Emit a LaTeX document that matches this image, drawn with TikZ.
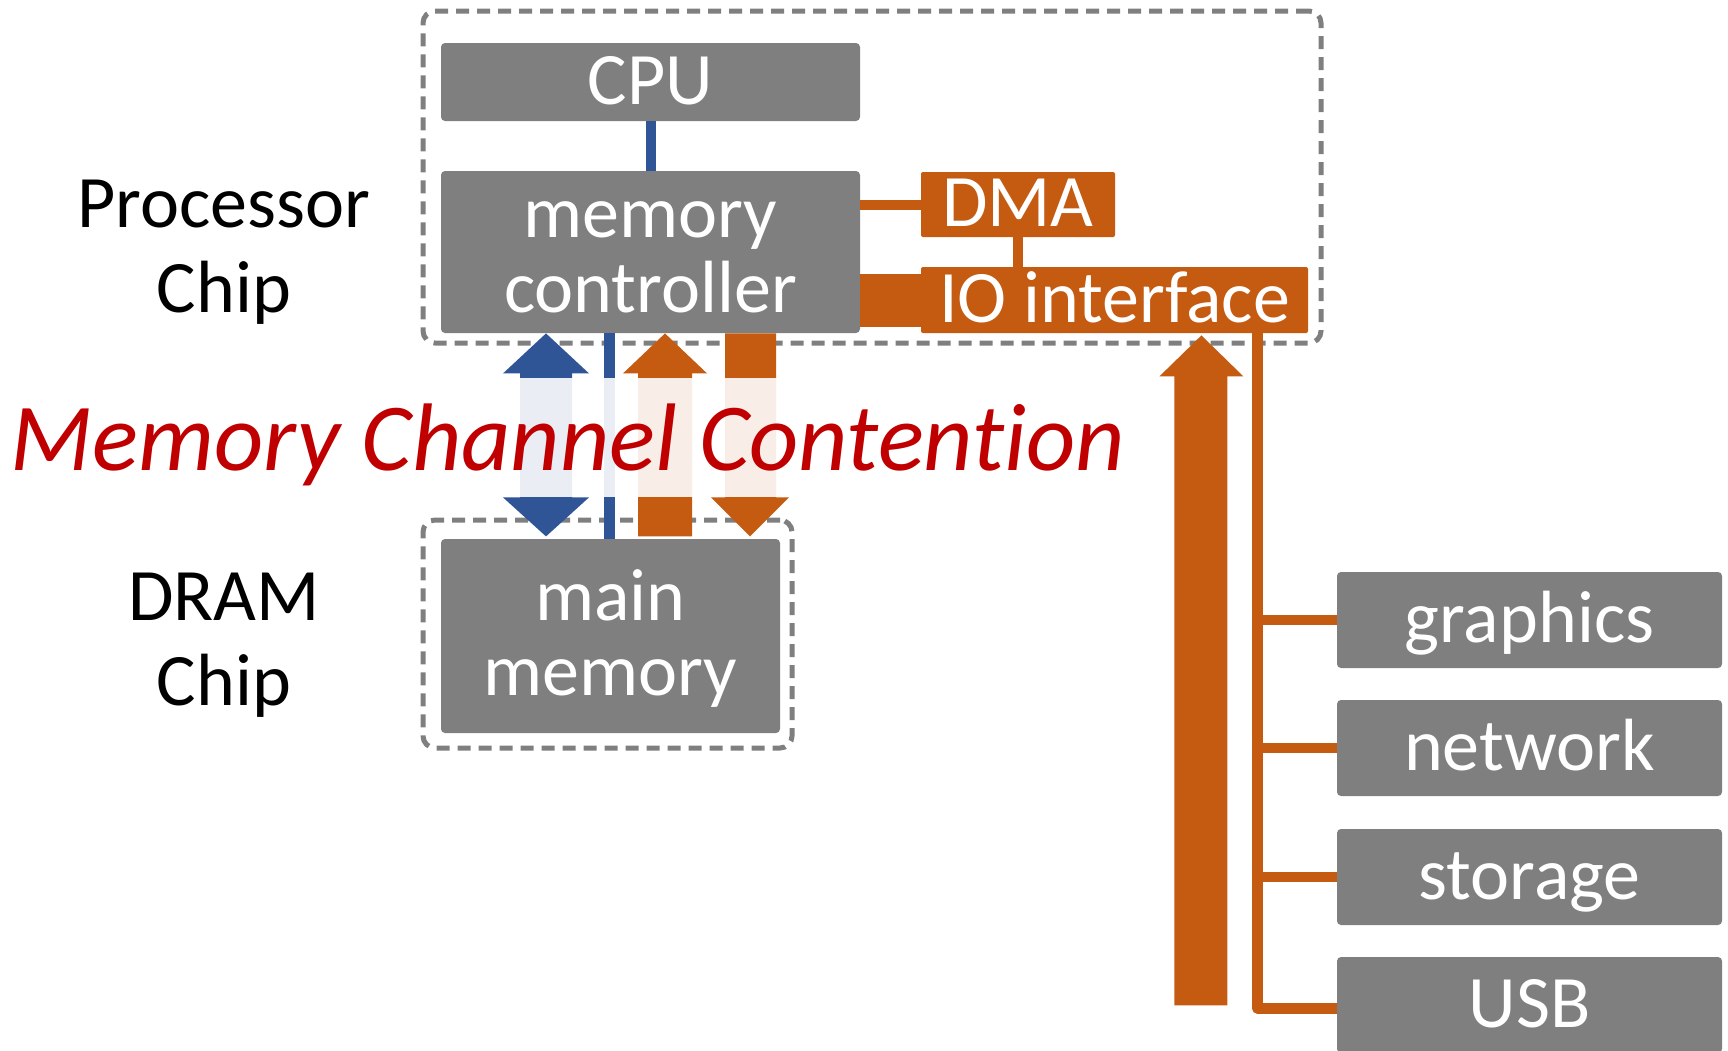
\documentclass[tikz,border=0pt]{standalone}
\usepackage{fontspec}
\setmainfont{Carlito}[RawFeature={-liga}]
\definecolor{boxgray}{HTML}{7F7F7F}
\definecolor{ora}{HTML}{C55A11}
\definecolor{blu}{HTML}{2F5597}
\definecolor{dred}{HTML}{C00000}
\begin{document}
\begin{tikzpicture}[x=0.5pt,y=-0.5pt,
  gbox/.style={fill=boxgray, rounded corners=2pt, text=white, inner sep=0pt,
    font=\fontsize{37}{37.5}\selectfont, align=center},
  obox/.style={fill=ora, rounded corners=1pt, text=white, inner sep=0pt,
    font=\fontsize{37}{37.5}\selectfont, text height=22pt, text depth=0pt},
  oneline/.style={text height=22pt, text depth=0pt},
  chipbox/.style={draw=boxgray, line width=2.5pt, dash pattern=on 6.5pt off 4pt,
    rounded corners=6pt, inner sep=0pt},
  chiplabel/.style={font=\fontsize{37}{42.5}\selectfont, align=center, anchor=base, inner sep=0pt},
  thinora/.style={draw=ora, line width=5pt},
  dev/.style={gbox, oneline, minimum width=192.5pt, minimum height=48pt}
]
\useasboundingbox (0,0) rectangle (1728,1050);

% chip outlines
\node[chipbox, minimum width=449pt, minimum height=166pt] (procchip) at (872,177) {};
\node[chipbox, minimum width=184.5pt, minimum height=114pt] (dramchip) at (607.5,634) {};

% labels (anchor base = last line)
\node[chiplabel] (proclabel) at (224,312) {Processor\\Chip};
\node[chiplabel] (dramlabel) at (224,705) {DRAM\\Chip};

% boxes
\node[gbox, oneline, minimum width=209.5pt, minimum height=39pt] (cpu) at (650.5,82) {CPU};
\node[gbox, minimum width=209.5pt, minimum height=81pt, text height=60pt, text depth=0pt] (mc) at (650.5,252) {memory\\controller};
\node[obox, minimum width=97pt, minimum height=32.5pt] (dma) at (1018,204.5) {DMA};
\node[obox, minimum width=193.5pt, minimum height=33pt] (io) at (1114.5,300) {IO interface};
\node[gbox, minimum width=169.5pt, minimum height=97pt, text height=59pt, text depth=0pt] (mem) at (610.5,636) {main\\memory};
\node[dev] (graphics) at (1529.5,620) {graphics};
\node[dev] (network) at (1529.5,748) {network};
\node[dev] (storage) at (1529.5,877) {storage};
\node[dev] (usb) at (1529.5,1005) {USB};

% connectors
\draw[blu, line width=5pt] (cpu.south) -- (mc.north);
\draw[thinora] (mc.east |- dma.west) -- (dma.west);
\draw[thinora] (dma.south) -- (dma.south |- io.north);
\draw[ora, line width=26.5pt] (mc.east |- io.west) -- (io.west);

\coordinate (bt) at ([xshift=-25.5pt]io.south east);
\draw[ora, line width=5.5pt, line join=round] (bt) |- ([yshift=-1.5pt]usb.west);
\draw[thinora] (bt |- graphics.west) -- (graphics.west);
\draw[thinora] (bt |- network.west) -- (network.west);
\draw[thinora] (bt |- storage.west) -- (storage.west);

% memory channel arrows
\coordinate (ba) at ([xshift=-52.25pt]mc.south);
\fill[blu] (ba) -- ++(43,40) -- ++(-17,0) -- ++(0,124) -- ++(17,0) -- ++(-43,39)
  -- ++(-43,-39) -- ++(17,0) -- ++(0,-124) -- ++(-17,0) -- cycle;
\coordinate (bl) at ([xshift=-20.5pt]mc.south);
\draw[blu, line width=5.5pt] (bl) -- (bl |- mem.north);
\coordinate (oa) at ([xshift=7.25pt]mc.south);
\fill[ora] (oa) -- ++(42,40) -- ++(-15,0) -- ++(0,163) -- ++(-54,0) -- ++(0,-163)
  -- ++(-15,0) -- cycle;
\coordinate (ob) at ([xshift=37.25pt]mc.south);
\fill[ora] (ob) -- ++(51,0) -- ++(0,164) -- ++(13,0) -- ++(-39,39) -- ++(-39,-39)
  -- ++(14,0) -- cycle;

% contention label with translucent white backdrop
\node[anchor=base, fill=white, fill opacity=0.9, text opacity=1, text=dred,
  inner sep=0pt, text height=46pt, text depth=13.5pt,
  font=\fontsize{48}{50}\selectfont\itshape] (contention) at (568,470)
  {Memory Channel Contention};

% big IO arrow
\coordinate (bigtip) at ([xshift=-53.5pt, yshift=-1pt]io.south east);
\fill[ora] (bigtip) -- ++(42,41) -- ++(-16,0) -- ++(0,629) -- ++(-53,0) -- ++(0,-629)
  -- ++(-15,0) -- cycle;
\end{tikzpicture}
\end{document}
